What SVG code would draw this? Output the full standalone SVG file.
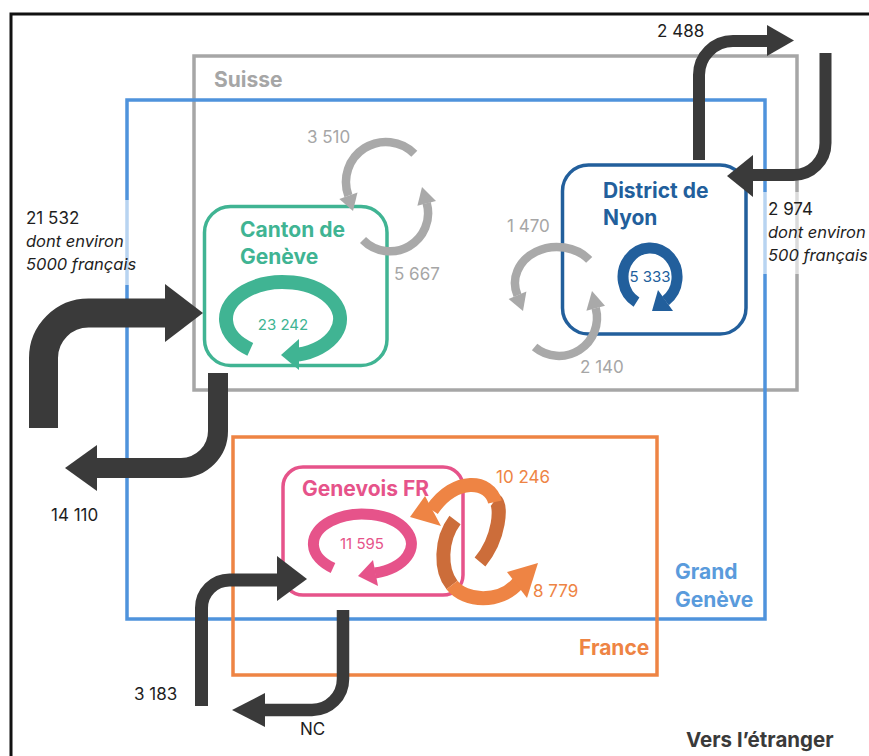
<svg xmlns="http://www.w3.org/2000/svg" width="869" height="756" viewBox="0 0 869 756">
<defs>
<style>
text { font-family: Inter, "Liberation Sans", sans-serif; }
.region { fill: none; stroke-width: 3.5; }
.rlabel { font-weight: 700; font-size: 21px; }
.node { fill: #ffffff; stroke-width: 3.5; }
.title { font-weight: 700; font-size: 21px; }
.flow { fill: none; stroke: #3a3a3a; }
.head { fill: #3a3a3a; }
.lbl { font-size: 17px; fill: #1e1e1e; }
.it { font-style: italic; font-size: 16.5px; fill: #1e1e1e; }
.grib { fill: none; stroke: #a9a9a9; stroke-width: 8.5; }
.ghead { fill: #a9a9a9; }
.glbl { font-size: 17px; fill: #a6a6a6; }
.orib { fill: none; stroke: #ee8444; stroke-width: 14; }
.orib-d { fill: none; stroke: #cc6d3a; stroke-width: 14; }
.ohead { fill: #ee8444; }
.olbl { font-size: 17px; fill: #ee8444; }
.nlbl { font-size: 15px; text-anchor: middle; }
</style>
</defs>
<rect width="869" height="756" fill="#ffffff"/>
<path d="M11,756 V14 H869" fill="none" stroke="#111111" stroke-width="3"/>

<g id="regions">
  <g id="suisse">
    <rect class="region" x="194" y="56" width="603" height="334" stroke="#a6a6a6"/>
    <text class="rlabel" x="214" y="87" fill="#a6a6a6">Suisse</text>
  </g>
  <g id="grand-geneve">
    <rect class="region" x="127" y="100" width="638" height="519" stroke="#4f93dc"/>
    <text class="rlabel" x="675" y="579" fill="#5a9bdc">Grand</text>
    <text class="rlabel" x="675" y="607" fill="#5a9bdc">Genève</text>
  </g>
  <g id="france">
    <rect class="region" x="233" y="437" width="424" height="238" stroke="#ee8444"/>
    <text class="rlabel" x="579" y="655" fill="#ee8444">France</text>
  </g>
  <text class="rlabel" x="686" y="747" fill="#3a3a3a" style="font-size:20.5px">Vers l’étranger</text>
</g>

<g id="label-backgrounds" fill="#ffffff" fill-opacity="0.6">
  <rect x="20" y="200" width="120" height="85"/>
  <rect x="760" y="192" width="109" height="82"/>
</g>

<g id="canton-geneve">
  <rect class="node" x="204.5" y="206.5" width="182.5" height="159" rx="26" stroke="#40b493"/>
  <text class="title" x="240" y="237" fill="#40b493">Canton de</text>
  <text class="title" x="240" y="264" fill="#40b493">Genève</text>
  <path d="M250.3,349.3 A57,37 0 1 1 298,354.7" fill="none" stroke="#40b493" stroke-width="14"/>
  <polygon points="299,339 281,355 299,370" fill="#40b493"/>
  <text class="nlbl" x="283" y="330" fill="#40b493">23 242</text>
</g>

<g id="district-nyon">
  <rect class="node" x="562.5" y="165" width="183.5" height="169" rx="26" stroke="#225f9c"/>
  <text class="title" x="603" y="198" fill="#225f9c">District de</text>
  <text class="title" x="603" y="225" fill="#225f9c">Nyon</text>
  <path d="M636.5,302.1 A27,29 0 1 1 665.5,300.8" fill="none" stroke="#225f9c" stroke-width="11"/>
  <polygon points="673,311 652,311 658,290" fill="#225f9c"/>
  <text class="nlbl" x="650" y="282" fill="#225f9c">5 333</text>
</g>

<g id="genevois-fr">
  <rect class="node" x="283" y="467" width="180" height="128" rx="20" stroke="#e6538a"/>
  <text class="title" x="302" y="496" fill="#e6538a">Genevois FR</text>
  <path d="M333,568 A49,30 0 1 1 375,573" fill="none" stroke="#e6538a" stroke-width="11"/>
  <polygon points="373,560 358,576 378,586" fill="#e6538a"/>
  <text class="nlbl" x="362" y="549" fill="#e6538a">11 595</text>
</g>

<g id="connectors">
  <!-- 21 532 entering Canton de Genève -->
  <path class="flow" d="M43.5,428 V358 A45,45 0 0 1 88.5,313 H166" stroke-width="29"/>
  <polygon class="head" points="165,284 203,313 165,342"/>
  <!-- 14 110 leaving Canton de Genève -->
  <path class="flow" d="M218,373 V431 A37,37 0 0 1 181,468 H96" stroke-width="20"/>
  <polygon class="head" points="97,445 65,468 97,491"/>
  <!-- 2 488 leaving Nyon -->
  <path class="flow" d="M699,160 V75 A34,34 0 0 1 733,41 H768" stroke-width="12"/>
  <polygon class="head" points="767,25 794,40.5 767,56"/>
  <!-- 2 974 entering Nyon -->
  <path class="flow" d="M825.5,53 V143 A32,32 0 0 1 793.5,175 H752" stroke-width="12"/>
  <polygon class="head" points="753,155 727,176 753,197"/>
  <!-- 3 183 entering Genevois FR -->
  <path class="flow" d="M201.5,706 V608 A28,28 0 0 1 229.5,580 H278" stroke-width="13"/>
  <polygon class="head" points="277,556 307,579 277,601"/>
  <!-- NC leaving Genevois FR -->
  <path class="flow" d="M343,610 V679 A31,31 0 0 1 312,710 H264" stroke-width="12.5"/>
  <polygon class="head" points="265,693 232,710 265,727"/>

  <!-- grey exchanges Canton de Genève / Suisse -->
  <path class="grib" d="M414.3,153.7 A40,40 0 0 0 348.4,195.7"/>
  <polygon class="ghead" points="357.5,192.4 353,211 339.3,199"/>
  <path class="grib" d="M363,240 A38,38 0 0 0 426.7,203.2"/>
  <polygon class="ghead" points="436,201 422,187 417.4,205.7"/>

  <!-- grey exchanges Nyon / Suisse -->
  <path class="grib" d="M589.2,259.9 A42,36 0 0 0 517.5,295.3"/>
  <polygon class="ghead" points="526.4,291.6 523,311 508.6,299"/>
  <path class="grib" d="M534.6,347.1 A38,38 0 0 0 595.7,308.2"/>
  <polygon class="ghead" points="605,305.7 592,291 586.4,310.7"/>

  <!-- orange exchanges Genevois FR / France -->
  <path class="orib-d" d="M480,562 C500,538 502,505 495,500"/>
  <path class="orib" d="M495,502 C490,480 455,476 432,510"/>
  <polygon class="ohead" points="425,496 410,517 441,526"/>
  <path class="orib-d" d="M455,520 C440,540 440,570 452,585"/>
  <path class="orib" d="M452,585 C465,602 500,604 518,583"/>
  <polygon class="ohead" points="507,572 538,563 527,598"/>
</g>

<g id="labels">
  <text class="lbl" x="26" y="224">21 532</text>
  <text class="it" x="26" y="247">dont environ</text>
  <text class="it" x="26" y="270">5000 français</text>
  <text class="lbl" x="51" y="521">14 110</text>
  <text class="lbl" x="657" y="37">2 488</text>
  <text class="lbl" x="768" y="215">2 974</text>
  <text class="it" x="768" y="238">dont environ</text>
  <text class="it" x="768" y="261">500 français</text>
  <text class="lbl" x="134" y="700">3 183</text>
  <text class="lbl" x="300" y="735">NC</text>
  <text class="glbl" x="307" y="143">3 510</text>
  <text class="glbl" x="394" y="280">5 667</text>
  <text class="glbl" x="507" y="232">1 470</text>
  <text class="glbl" x="580" y="373">2 140</text>
  <text class="olbl" x="496" y="483">10 246</text>
  <text class="olbl" x="533" y="597">8 779</text>
</g>
</svg>
